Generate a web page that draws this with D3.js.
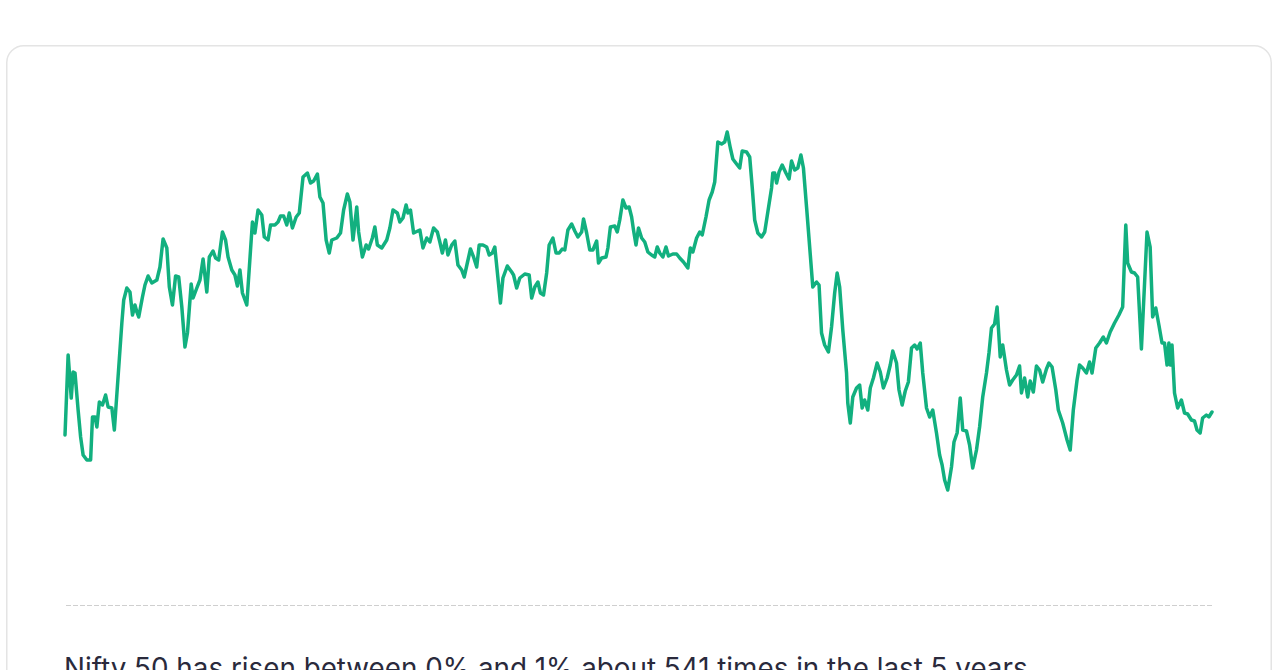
<!DOCTYPE html>
<html>
<head>
<meta charset="utf-8">
<script src="https://cdn.jsdelivr.net/npm/d3@7"></script>
<style>
  html, body { margin: 0; padding: 0; background: #ffffff; }
  svg { display: block; }
</style>
</head>
<body>
<svg id="chart" width="1280" height="670"></svg>
<script>
// Day offsets (from start of the 5-year window) and index level (relative units)
const days = [0,5,10,13,16,21,25,29,35,41,44,48,51,55,60,65,69,75,79,91,94,99,104,108,112,115,118,124,128,133,139,147,152,157,163,167,172,177,182,187,192,196,202,205,211,216,221,227,231,237,241,246,252,257,261,267,272,276,280,284,291,300,304,309,315,319,325,329,336,341,345,350,355,359,364,370,375,381,388,393,398,404,408,413,418,423,427,435,441,446,452,456,461,467,470,476,482,486,492,496,500,507,515,520,525,532,536,541,546,549,553,558,568,573,579,584,590,596,600,604,609,613,619,624,629,635,639,644,649,654,659,663,669,675,679,684,688,697,701,708,715,718,723,728,736,743,747,752,757,761,766,771,775,781,786,791,796,800,805,811,816,821,827,830,835,840,845,851,854,859,866,869,873,880,884,888,893,898,903,907,910,914,918,923,928,933,939,944,948,952,957,962,966,973,979,984,990,997,1001,1005,1011,1016,1020,1026,1031,1036,1040,1045,1051,1056,1060,1065,1069,1075,1080,1084,1091,1096,1100,1104,1109,1115,1120,1125,1131,1133,1136,1139,1143,1148,1154,1159,1163,1168,1173,1178,1182,1187,1192,1197,1203,1207,1211,1216,1222,1227,1232,1236,1240,1245,1251,1253,1257,1261,1267,1272,1276,1280,1285,1289,1294,1300,1305,1310,1316,1321,1325,1331,1335,1340,1345,1350,1355,1360,1364,1369,1373,1379,1384,1389,1395,1400,1404,1408,1413,1419,1423,1428,1433,1437,1443,1448,1453,1459,1464,1469,1475,1479,1483,1488,1492,1497,1501,1507,1512,1517,1523,1528,1531,1536,1541,1545,1550,1555,1560,1565,1571,1575,1580,1586,1590,1597,1604,1609,1614,1620,1624,1629,1635,1640,1644,1650,1656,1662,1667,1673,1680,1687,1693,1698,1701,1707,1712,1717,1723,1726,1732,1737,1741,1746,1751,1756,1760,1764,1767,1769,1772,1776,1781,1787,1792,1797,1803,1808,1812,1817,1821,1827,1831,1836];
const levels = [65,145,102,128,127,90,63,45,40,40,83,83,73,98,95,105,93,92,70,177,200,212,208,185,195,188,183,203,215,224,217,220,233,261,252,213,195,224,223,193,153,167,216,202,212,220,241,208,243,249,242,240,268,260,243,230,225,214,230,207,195,278,267,290,285,263,260,275,275,278,284,284,275,287,272,283,287,323,327,317,319,326,303,297,260,247,260,262,267,290,306,298,260,293,268,243,255,251,262,273,255,252,260,272,290,287,278,282,295,287,290,267,270,252,262,258,272,268,258,247,260,245,255,259,235,230,223,237,251,243,233,255,255,253,245,247,253,197,222,234,228,225,212,222,226,225,202,213,218,207,205,227,255,262,247,247,251,250,270,276,269,263,268,281,267,250,250,259,237,242,243,252,273,274,268,280,300,292,293,283,270,255,272,262,258,248,245,243,253,247,243,253,244,246,246,242,238,232,252,248,262,268,265,283,300,308,318,358,356,358,368,352,341,336,332,349,348,343,313,280,267,263,268,288,312,327,327,317,328,335,327,321,339,330,332,345,332,293,253,213,218,215,167,155,148,173,207,227,213,170,127,97,77,103,112,115,92,100,90,112,122,137,128,112,122,135,149,137,110,95,109,118,152,155,151,157,127,92,83,90,67,45,35,20,10,33,58,67,102,70,69,55,32,50,73,103,127,147,172,176,193,143,155,130,115,120,125,134,107,122,103,119,108,134,130,118,131,137,133,110,90,77,60,50,90,120,135,132,127,138,127,152,157,163,157,168,177,185,193,275,237,228,227,223,151,190,268,253,183,192,175,157,157,135,157,135,155,107,92,100,87,86,80,79,70,67,82,85,83,88];

const caption = "Nifty 50 has risen between 0% and 1% about 541 times in the last 5 years";

const data = days.map((d, i) => ({ day: d, value: levels[i] }));

const svg = d3.select("#chart");

// Card
svg.append("rect")
  .attr("x", 6.75).attr("y", 45.75)
  .attr("width", 1264.5).attr("height", 700)
  .attr("rx", 17).attr("ry", 17)
  .attr("fill", "#ffffff")
  .attr("stroke", "#e4e4e4")
  .attr("stroke-width", 1.5);

const x = d3.scaleLinear().domain(d3.extent(days)).range([65, 1212]);
const y = d3.scaleLinear().domain(d3.extent(levels)).range([490, 132]);

// Baseline (dashed)
svg.append("line")
  .attr("x1", x.range()[0] + 1).attr("x2", x.range()[1])
  .attr("y1", 605.5).attr("y2", 605.5)
  .attr("stroke", "#cfcfcf")
  .attr("stroke-width", 1)
  .attr("stroke-dasharray", "5,2");

const line = d3.line()
  .x(d => x(d.day))
  .y(d => y(d.value))
  .curve(d3.curveLinear);

svg.append("path")
  .datum(data)
  .attr("d", line)
  .attr("fill", "none")
  .attr("stroke", "#12b07f")
  .attr("stroke-width", 3.5)
  .attr("stroke-linejoin", "round")
  .attr("stroke-linecap", "round");

svg.append("text")
  .attr("x", 64).attr("y", 678)
  .attr("font-family", "Inter, 'Open Sans', sans-serif")
  .attr("font-size", 27.8)
  .attr("fill", "#2a2a3c")
  .text(caption);
</script>
</body>
</html>
